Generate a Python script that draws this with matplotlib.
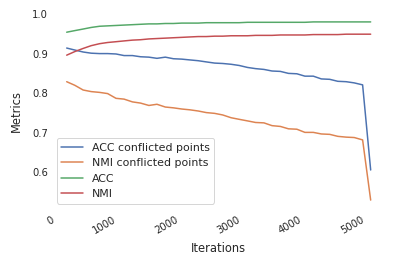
import matplotlib
matplotlib.use('Agg')
import matplotlib.pyplot as plt
import seaborn as sns

# data
iterations = [180, 310, 445, 575, 710, 840, 975, 1105, 1240, 1370,
              1505, 1635, 1770, 1900, 2035, 2165, 2300, 2430, 2565, 2695,
              2830, 2960, 3095, 3225, 3360, 3490, 3625, 3755, 3890, 4020,
              4155, 4285, 4420, 4550, 4685, 4815, 4950, 5080]

acc_conflicted = [0.914, 0.909, 0.904, 0.901, 0.900, 0.900, 0.899, 0.895, 0.895, 0.892,
                  0.891, 0.888, 0.891, 0.887, 0.886, 0.884, 0.882, 0.879, 0.876, 0.875,
                  0.873, 0.870, 0.865, 0.862, 0.860, 0.856, 0.855, 0.850, 0.849, 0.843,
                  0.843, 0.836, 0.835, 0.830, 0.829, 0.826, 0.821, 0.606]

nmi_conflicted = [0.829, 0.820, 0.808, 0.804, 0.802, 0.799, 0.787, 0.785, 0.778, 0.775,
                  0.769, 0.772, 0.765, 0.763, 0.760, 0.758, 0.755, 0.751, 0.749, 0.745,
                  0.738, 0.734, 0.730, 0.726, 0.725, 0.718, 0.716, 0.710, 0.709, 0.701,
                  0.701, 0.697, 0.696, 0.691, 0.689, 0.688, 0.682, 0.530]

acc = [0.954, 0.958, 0.962, 0.966, 0.969, 0.970, 0.971, 0.972, 0.973, 0.974,
       0.975, 0.975, 0.976, 0.976, 0.977, 0.977, 0.977, 0.978, 0.978, 0.978,
       0.978, 0.978, 0.979, 0.979, 0.979, 0.979, 0.979, 0.979, 0.979, 0.979,
       0.980, 0.980, 0.980, 0.980, 0.980, 0.980, 0.980, 0.980]

nmi = [0.896, 0.905, 0.913, 0.920, 0.925, 0.928, 0.930, 0.932, 0.934, 0.935,
       0.937, 0.938, 0.939, 0.940, 0.941, 0.942, 0.943, 0.943, 0.944, 0.944,
       0.945, 0.945, 0.945, 0.946, 0.946, 0.946, 0.947, 0.947, 0.947, 0.947,
       0.948, 0.948, 0.948, 0.948, 0.949, 0.949, 0.949, 0.949]

series = [
    ('ACC conflicted points', acc_conflicted),
    ('NMI conflicted points', nmi_conflicted),
    ('ACC', acc),
    ('NMI', nmi),
]

sns.set_theme(style='white', context='notebook')
colors = sns.color_palette('deep')

fig = plt.figure(figsize=(399 / 72, 265 / 72), dpi=72)
ax = fig.add_axes([51.3 / 399, 56 / 265, (386 - 51.3) / 399, (209 - 13) / 265])

for i, (name, vals) in enumerate(series):
    ax.plot(iterations, vals, color=colors[i], label=name, linewidth=1.5)

ax.set_xlim(-68, 5327)
ax.set_ylim(0.5075, 1.0025)
ax.set_xticks([0, 1000, 2000, 3000, 4000, 5000])
ax.set_yticks([0.6, 0.7, 0.8, 0.9, 1.0])
for lbl in ax.get_xticklabels():
    lbl.set_rotation(30)
    lbl.set_ha('right')
ax.tick_params(axis='both', labelsize=10, length=0)
ax.tick_params(axis='x', pad=6)

for s in ax.spines.values():
    s.set_visible(False)

ax.set_xlabel('Iterations', fontsize=11.5, labelpad=6)
ax.set_ylabel('Metrics', fontsize=11.5, labelpad=9)
ax.legend(loc='lower left', fontsize=11)

fig.savefig('out.png', dpi=72)
